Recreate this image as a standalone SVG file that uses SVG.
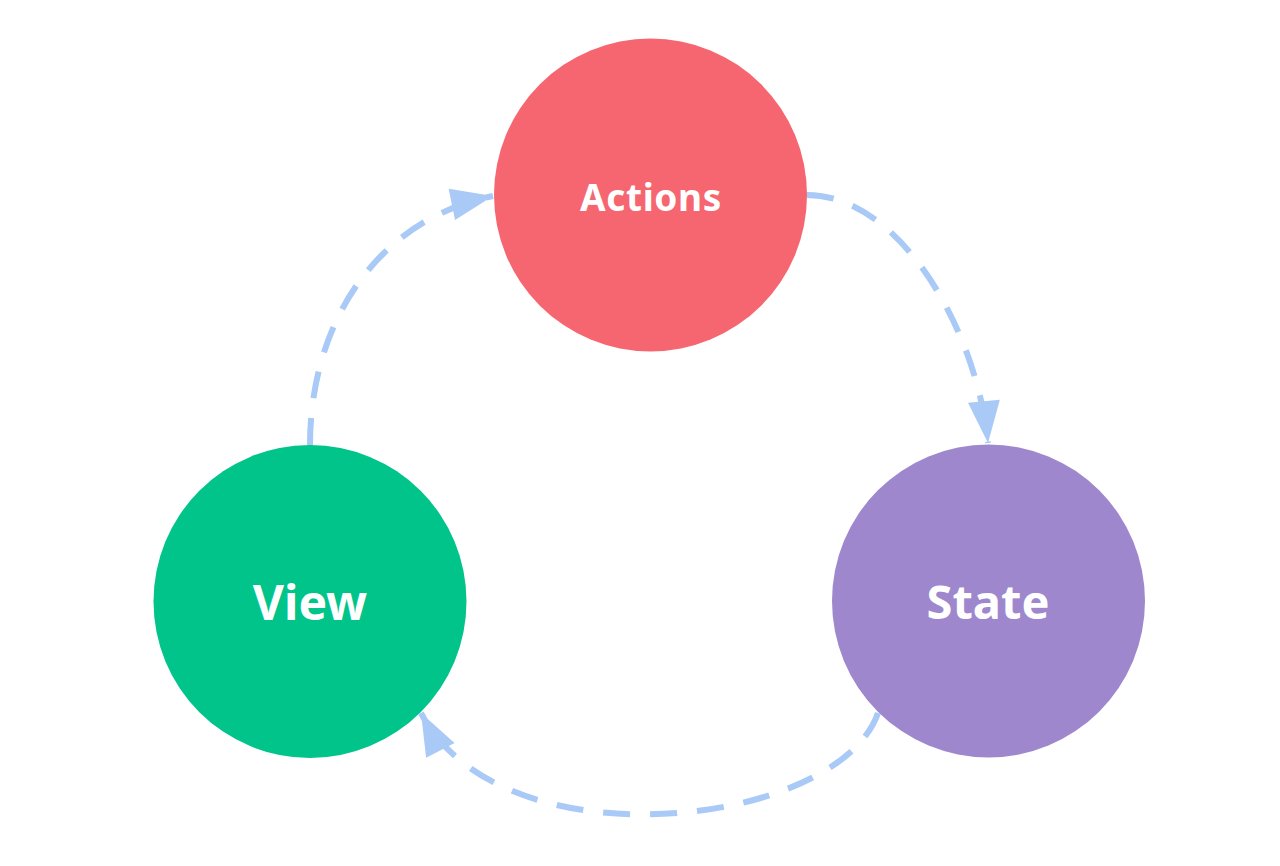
<svg xmlns="http://www.w3.org/2000/svg" width="1280" height="866" viewBox="0 0 1280 866">
<style>
.lbl{font-family:"Noto Sans","Open Sans",sans-serif;font-weight:700;fill:#ffffff;text-anchor:middle}
.edge{fill:none;stroke:#a9c9f6;stroke-width:6;stroke-dasharray:27 20;marker-end:url(#arr)}
</style>
<defs>
<marker id="arr" markerUnits="userSpaceOnUse" markerWidth="42" markerHeight="32" refX="42" refY="16" orient="auto" overflow="visible">
<path d="M0,0 L42,16 L0,32 Z" fill="#a9c9f6"/>
</marker>
</defs>
<rect width="1280" height="866" fill="#ffffff"/>
<g id="connectors">
<path class="edge" d="M310,445 C310,325 375,220 493,196"/>
<path class="edge" d="M807,195 C900,195 977,330 988,443"/>
<path class="edge" d="M878,713 C838,828 501,867 421,713"/>
</g>
<g id="actions">
<circle cx="650.5" cy="195" r="156.5" fill="#f56670"/>
<text class="lbl" x="651" y="211" font-size="37" letter-spacing="0.6">Actions</text>
</g>
<g id="view">
<circle cx="310" cy="601.5" r="156.5" fill="#00c48a"/>
<text class="lbl" x="310" y="620" font-size="48">View</text>
</g>
<g id="state">
<circle cx="988.5" cy="601" r="156.5" fill="#9e87cd"/>
<text class="lbl" x="988" y="619" font-size="47">State</text>
</g>
</svg>
